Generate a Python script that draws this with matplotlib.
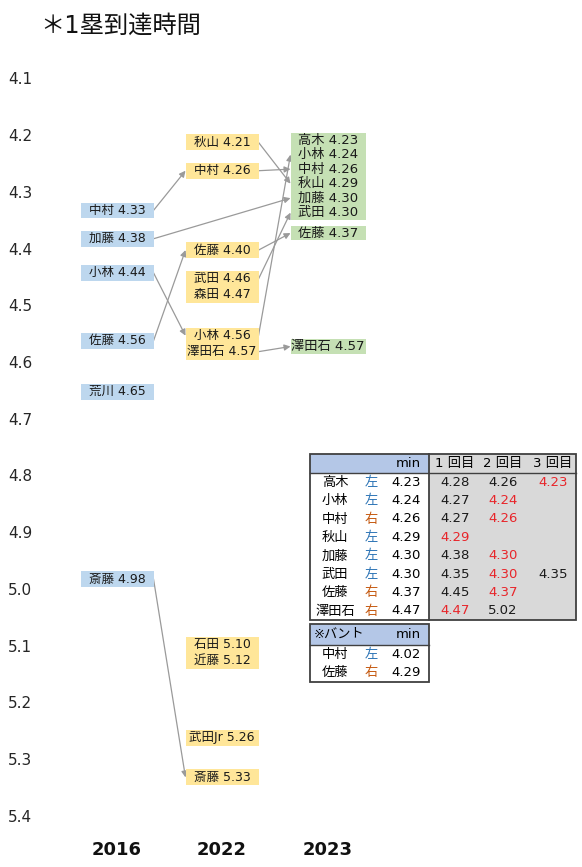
import matplotlib.pyplot as plt
from matplotlib.patches import Rectangle

plt.rcParams['font.family'] = ['DejaVu Sans', 'Noto Sans CJK JP']

# ---- data ----
years = ["2016", "2022", "2023"]

names_2016 = ["中村", "加藤", "小林", "佐藤", "荒川", "斎藤"]
times_2016 = [4.33, 4.38, 4.44, 4.56, 4.65, 4.98]

names_2022 = ["秋山", "中村", "佐藤", "武田", "森田", "小林", "澤田石",
              "石田", "近藤", "武田Jr", "斎藤"]
times_2022 = [4.21, 4.26, 4.40, 4.46, 4.47, 4.56, 4.57, 5.10, 5.12, 5.26, 5.33]

names_2023 = ["高木", "小林", "中村", "秋山", "加藤", "武田", "佐藤", "澤田石"]
times_2023 = [4.23, 4.24, 4.26, 4.29, 4.30, 4.30, 4.37, 4.57]

# (from column, name, to column, name)
links = [
    (0, "中村", 1, "中村"), (0, "加藤", 2, "加藤"), (0, "小林", 1, "小林"),
    (0, "佐藤", 1, "佐藤"), (0, "斎藤", 1, "斎藤"),
    (1, "秋山", 2, "秋山"), (1, "中村", 2, "中村"), (1, "佐藤", 2, "佐藤"),
    (1, "武田", 2, "武田"), (1, "小林", 2, "小林"), (1, "澤田石", 2, "澤田石"),
]

y_ticks = [4.1, 4.2, 4.3, 4.4, 4.5, 4.6, 4.7, 4.8, 4.9, 5.0, 5.1, 5.2, 5.3, 5.4]

tbl_cols = ["", "", "min", "1 回目", "2 回目", "3 回目"]
tbl_names = ["高木", "小林", "中村", "秋山", "加藤", "武田", "佐藤", "澤田石"]
tbl_hand = ["左", "左", "右", "左", "左", "左", "右", "右"]
tbl_min = ["4.23", "4.24", "4.26", "4.29", "4.30", "4.30", "4.37", "4.47"]
tbl_r1 = ["4.28", "4.27", "4.27", "4.29", "4.38", "4.35", "4.45", "4.47"]
tbl_r2 = ["4.26", "4.24", "4.26", "", "4.30", "4.30", "4.37", "5.02"]
tbl_r3 = ["4.23", "", "", "", "", "4.35", "", ""]

bunt_names = ["中村", "佐藤"]
bunt_hand = ["左", "右"]
bunt_min = ["4.02", "4.29"]

# ---- layout ----
W, H = 582, 867
PX = 567.0  # pixels per 1.0 second
y_top = 4.1 - 80 / PX
y_bot = 4.1 + (H - 80) / PX

col_x = [117, 222, 328]
box_w = [73, 73, 75]
sep_px = [15.5, 16, 14.5]
colors = ["#BDD7EE", "#FFE699", "#C5E0B4"]
hand_color = {"左": "#2E75B6", "右": "#C55A11"}
red = "#E8252A"

fig = plt.figure(figsize=(W / 100, H / 100), dpi=100)
ax = fig.add_axes([0, 0, 1, 1])
ax.set_xlim(0, W)
ax.set_ylim(y_bot, y_top)
ax.axis("off")


def dodge(values, sep):
    # spread close values around their mean so labels don't overlap
    clusters = [[v] for v in values]
    def pos(c):
        m = sum(c) / len(c)
        return [m + (i - (len(c) - 1) / 2) * sep for i in range(len(c))]
    merged = True
    while merged:
        merged = False
        for i in range(len(clusters) - 1):
            if pos(clusters[i + 1])[0] - pos(clusters[i])[-1] < sep - 1e-9:
                clusters[i] = clusters[i] + clusters.pop(i + 1)
                merged = True
                break
    out = []
    for c in clusters:
        out += pos(c)
    return out


columns = [(names_2016, times_2016), (names_2022, times_2022), (names_2023, times_2023)]
shown = []
for ci, (names, times) in enumerate(columns):
    sep = sep_px[ci] / PX
    ys = dodge(times, sep)
    shown.append(dict(zip(names, ys)))
    for n, t, y in zip(names, times, ys):
        ax.add_patch(Rectangle((col_x[ci] - box_w[ci] / 2, y - sep / 2), box_w[ci], sep,
                               facecolor=colors[ci], edgecolor="none", zorder=2))
        ax.text(col_x[ci], y, f"{n} {t:.2f}", ha="center", va="center",
                fontsize=9.5 if ci == 2 else 9, color="#1a1a1a", zorder=3)

for c0, n0, c1, n1 in links:
    ax.annotate("", xy=(col_x[c1] - box_w[c1] / 2, shown[c1][n1]),
                xytext=(col_x[c0] + box_w[c0] / 2, shown[c0][n0]),
                arrowprops=dict(arrowstyle="-|>", color="#9A9A9A", lw=0.9,
                                mutation_scale=9, shrinkA=0, shrinkB=0), zorder=1)

for t in y_ticks:
    ax.text(8, t, f"{t:.1f}", ha="left", va="center", fontsize=11, color="#262626")

for x, yr in zip(col_x, years):
    ax.text(x, 4.1 + (850 - 80) / PX, yr, ha="center", va="center",
            fontsize=13, fontweight="bold", color="#111111")

# ---- title and tables in pixel coordinates ----
tx = fig.add_axes([0, 0, 1, 1])
tx.set_xlim(0, W)
tx.set_ylim(H, 0)
tx.axis("off")
tx.patch.set_alpha(0)

tx.text(40, 26, "＊1塁到達時間", ha="left", va="center", fontsize=17.5, color="#111111")

# main table
left, mid, right = 310, 429, 576
top, head_h, row_h = 454, 19, 18.4
bottom = top + head_h + row_h * len(tbl_names)
tx.add_patch(Rectangle((left, top), mid - left, head_h, facecolor="#B4C7E7", edgecolor="none"))
tx.add_patch(Rectangle((mid, top), right - mid, bottom - top, facecolor="#D9D9D9", edgecolor="none"))
tx.add_patch(Rectangle((left, top), right - left, bottom - top, facecolor="none",
                       edgecolor="#404040", lw=1.3))
tx.plot([mid, mid], [top, bottom], color="#404040", lw=1.3)
tx.plot([left, right], [top + head_h, top + head_h], color="#404040", lw=1.0)

cx_name, cx_hand, cx_min = 335, 371, 421
cx_r = [455, 503, 553]
hy = top + head_h / 2
tx.text(cx_min, hy, tbl_cols[2], ha="right", va="center", fontsize=9.5)
for x, lab in zip(cx_r, tbl_cols[3:]):
    tx.text(x, hy, lab, ha="center", va="center", fontsize=9.5)

for i in range(len(tbl_names)):
    y = top + head_h + row_h * (i + 0.5)
    tx.text(cx_name, y, tbl_names[i], ha="center", va="center", fontsize=9.5)
    tx.text(cx_hand, y, tbl_hand[i], ha="center", va="center", fontsize=9.5,
            color=hand_color[tbl_hand[i]])
    tx.text(cx_min, y, tbl_min[i], ha="right", va="center", fontsize=9.5)
    for x, v in zip(cx_r, [tbl_r1[i], tbl_r2[i], tbl_r3[i]]):
        if v:
            tx.text(x, y, v, ha="center", va="center", fontsize=9.5,
                    color=red if v == tbl_min[i] else "#1a1a1a")

# bunt table
btop, bhead = 624, 21
bbottom = btop + bhead + row_h * len(bunt_names)
tx.add_patch(Rectangle((left, btop), mid - left, bhead, facecolor="#B4C7E7", edgecolor="none"))
tx.add_patch(Rectangle((left, btop), mid - left, bbottom - btop, facecolor="none",
                       edgecolor="#404040", lw=1.3))
tx.plot([left, mid], [btop + bhead, btop + bhead], color="#404040", lw=1.0)
tx.text(314, btop + bhead / 2, "※バント", ha="left", va="center", fontsize=9.5)
tx.text(cx_min, btop + bhead / 2, "min", ha="right", va="center", fontsize=9.5)
for i in range(len(bunt_names)):
    y = btop + bhead + row_h * (i + 0.5)
    tx.text(cx_name, y, bunt_names[i], ha="center", va="center", fontsize=9.5)
    tx.text(cx_hand, y, bunt_hand[i], ha="center", va="center", fontsize=9.5,
            color=hand_color[bunt_hand[i]])
    tx.text(cx_min, y, bunt_min[i], ha="right", va="center", fontsize=9.5)

fig.savefig("out.png", dpi=100)
